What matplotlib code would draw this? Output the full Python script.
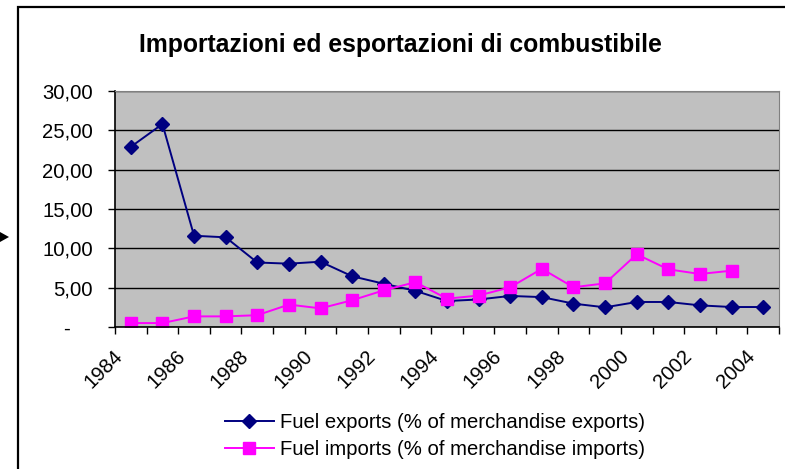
import numpy as np
import matplotlib
matplotlib.use('Agg')
import matplotlib.pyplot as plt
from matplotlib.patches import Rectangle, Polygon
from matplotlib.ticker import FixedLocator, FuncFormatter
from matplotlib.transforms import ScaledTranslation

anni = list(range(1984, 2005))
esportazioni = [22.9, 25.8, 11.6, 11.4, 8.2, 8.05, 8.3, 6.45, 5.5, 4.6, 3.3,
                3.5, 3.95, 3.8, 2.97, 2.5, 3.18, 3.18, 2.75, 2.54, 2.54]
importazioni = [0.5, 0.5, 1.35, 1.35, 1.5, 2.85, 2.37, 3.4, 4.66, 5.7, 3.6,
                4.0, 5.05, 7.4, 5.05, 5.55, 9.24, 7.33, 6.74, 7.16, np.nan]

plt.rcParams['font.family'] = ['Liberation Sans', 'DejaVu Sans']

W, H = 785, 469
fig = plt.figure(figsize=(W / 100, H / 100), dpi=100)

# cornice del grafico e freccia a sinistra
fig.patches.append(Rectangle((18 / W, -0.1), 1.2, 1 - 7 / H + 0.1, transform=fig.transFigure,
                             fill=False, edgecolor='black', linewidth=1.6))
fig.patches.append(Polygon([(0 / W, 1 - 232 / H), (9 / W, 1 - 237 / H), (0 / W, 1 - 242 / H)],
                           closed=True, transform=fig.transFigure, facecolor='black', edgecolor='none'))

ax = fig.add_axes([115 / W, 1 - 327 / H, (779 - 115) / W, (327 - 91) / H])
ax.set_facecolor('#C0C0C0')

x = np.arange(len(anni))
ax.plot(x, esportazioni, color='#000080', marker='D', markersize=7.5, linewidth=1.4,
        label='Fuel exports (% of merchandise exports)')
ax.plot(x, importazioni, color='#FF00FF', marker='s', markersize=8, linewidth=1.4,
        label='Fuel imports (% of merchandise imports)')

ax.set_xlim(-0.5, len(anni) - 0.5)
ax.set_ylim(0, 30)
ax.set_yticks(np.arange(0, 31, 5))
ax.yaxis.set_major_formatter(FuncFormatter(lambda v, p: '-    ' if v == 0 else f'{v:.2f}'.replace('.', ',')))
ax.grid(axis='y', color='black', linewidth=1)
ax.set_axisbelow(True)

ax.set_xticks(x[::2])
ax.set_xticklabels([str(a) for a in anni[::2]])
ax.xaxis.set_minor_locator(FixedLocator(np.arange(-0.5, len(anni), 1)))
ax.tick_params(axis='x', which='major', length=0, pad=14)
ax.tick_params(axis='x', which='minor', length=5, width=1, color='black')
ax.tick_params(axis='y', length=5, width=1, color='black', pad=11)
ax.tick_params(labelsize=14.6)
offset = ScaledTranslation(-18 / 100, 0, fig.dpi_scale_trans)
for lab in ax.get_xticklabels():
    lab.set_rotation(45)
    lab.set_ha('right')
    lab.set_rotation_mode('anchor')
    lab.set_transform(lab.get_transform() + offset)

for s in ['top', 'right']:
    ax.spines[s].set_color('#808080')
for s in ['left', 'bottom']:
    ax.spines[s].set_color('black')
    ax.spines[s].set_linewidth(1.2)

fig.text(400 / W, 1 - 45 / H, 'Importazioni ed esportazioni di combustibile',
         ha='center', va='center', fontsize=17.8, fontweight='bold')

fig.legend(loc='center left', bbox_to_anchor=(225 / W, 1 - 436 / H), frameon=False,
           fontsize=14.6, handlelength=2.4, handletextpad=0.3, labelspacing=0.4,
           borderaxespad=0, borderpad=0)

fig.savefig('out.png', dpi=100)
